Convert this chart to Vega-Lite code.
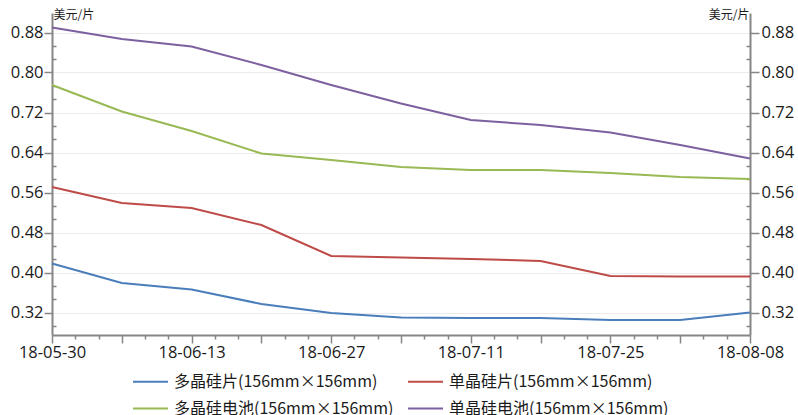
{
  "$schema": "https://vega.github.io/schema/vega-lite/v6.json",
  "width": 698,
  "height": 322,
  "autosize": "none",
  "padding": {"left": 52, "top": 13, "right": 48, "bottom": 80},
  "background": "white",
  "config": {
    "view": {"stroke": null},
    "font": "Open Sans",
    "axis": {
      "domainColor": "#868686",
      "domainWidth": 2,
      "tickColor": "#868686",
      "tickWidth": 1.5,
      "labelColor": "#1a1a1a",
      "labelFont": "Open Sans",
      "labelFontSize": 16.5,
      "grid": false
    },
    "legend": {
      "labelFont": "Noto Sans CJK SC",
      "labelFontSize": 16,
      "labelColor": "#1a1a1a",
      "labelLimit": 400,
      "symbolType": "stroke",
      "symbolSize": 1225,
      "symbolStrokeWidth": 2,
      "labelOffset": 5,
      "columnPadding": 10,
      "rowPadding": -16
    }
  },
  "data": {
    "values": [
      {"date": "2018/05/30", "series": "多晶硅片(156mm×156mm)", "value": 0.418},
      {"date": "2018/06/06", "series": "多晶硅片(156mm×156mm)", "value": 0.379},
      {"date": "2018/06/13", "series": "多晶硅片(156mm×156mm)", "value": 0.366},
      {"date": "2018/06/20", "series": "多晶硅片(156mm×156mm)", "value": 0.337},
      {"date": "2018/06/27", "series": "多晶硅片(156mm×156mm)", "value": 0.319},
      {"date": "2018/07/04", "series": "多晶硅片(156mm×156mm)", "value": 0.310},
      {"date": "2018/07/11", "series": "多晶硅片(156mm×156mm)", "value": 0.309},
      {"date": "2018/07/18", "series": "多晶硅片(156mm×156mm)", "value": 0.309},
      {"date": "2018/07/25", "series": "多晶硅片(156mm×156mm)", "value": 0.305},
      {"date": "2018/08/01", "series": "多晶硅片(156mm×156mm)", "value": 0.305},
      {"date": "2018/08/08", "series": "多晶硅片(156mm×156mm)", "value": 0.320},
      {"date": "2018/05/30", "series": "单晶硅片(156mm×156mm)", "value": 0.571},
      {"date": "2018/06/06", "series": "单晶硅片(156mm×156mm)", "value": 0.539},
      {"date": "2018/06/13", "series": "单晶硅片(156mm×156mm)", "value": 0.529},
      {"date": "2018/06/20", "series": "单晶硅片(156mm×156mm)", "value": 0.495},
      {"date": "2018/06/27", "series": "单晶硅片(156mm×156mm)", "value": 0.433},
      {"date": "2018/07/04", "series": "单晶硅片(156mm×156mm)", "value": 0.430},
      {"date": "2018/07/11", "series": "单晶硅片(156mm×156mm)", "value": 0.427},
      {"date": "2018/07/18", "series": "单晶硅片(156mm×156mm)", "value": 0.423},
      {"date": "2018/07/25", "series": "单晶硅片(156mm×156mm)", "value": 0.393},
      {"date": "2018/08/01", "series": "单晶硅片(156mm×156mm)", "value": 0.392},
      {"date": "2018/08/08", "series": "单晶硅片(156mm×156mm)", "value": 0.392},
      {"date": "2018/05/30", "series": "多晶硅电池(156mm×156mm)", "value": 0.775},
      {"date": "2018/06/06", "series": "多晶硅电池(156mm×156mm)", "value": 0.722},
      {"date": "2018/06/13", "series": "多晶硅电池(156mm×156mm)", "value": 0.683},
      {"date": "2018/06/20", "series": "多晶硅电池(156mm×156mm)", "value": 0.638},
      {"date": "2018/06/27", "series": "多晶硅电池(156mm×156mm)", "value": 0.625},
      {"date": "2018/07/04", "series": "多晶硅电池(156mm×156mm)", "value": 0.611},
      {"date": "2018/07/11", "series": "多晶硅电池(156mm×156mm)", "value": 0.605},
      {"date": "2018/07/18", "series": "多晶硅电池(156mm×156mm)", "value": 0.605},
      {"date": "2018/07/25", "series": "多晶硅电池(156mm×156mm)", "value": 0.599},
      {"date": "2018/08/01", "series": "多晶硅电池(156mm×156mm)", "value": 0.591},
      {"date": "2018/08/08", "series": "多晶硅电池(156mm×156mm)", "value": 0.587},
      {"date": "2018/05/30", "series": "单晶硅电池(156mm×156mm)", "value": 0.890},
      {"date": "2018/06/06", "series": "单晶硅电池(156mm×156mm)", "value": 0.867},
      {"date": "2018/06/13", "series": "单晶硅电池(156mm×156mm)", "value": 0.852},
      {"date": "2018/06/20", "series": "单晶硅电池(156mm×156mm)", "value": 0.815},
      {"date": "2018/06/27", "series": "单晶硅电池(156mm×156mm)", "value": 0.775},
      {"date": "2018/07/04", "series": "单晶硅电池(156mm×156mm)", "value": 0.738},
      {"date": "2018/07/11", "series": "单晶硅电池(156mm×156mm)", "value": 0.705},
      {"date": "2018/07/18", "series": "单晶硅电池(156mm×156mm)", "value": 0.695},
      {"date": "2018/07/25", "series": "单晶硅电池(156mm×156mm)", "value": 0.680},
      {"date": "2018/08/01", "series": "单晶硅电池(156mm×156mm)", "value": 0.655},
      {"date": "2018/08/08", "series": "单晶硅电池(156mm×156mm)", "value": 0.628}
    ]
  },
  "layer": [
    {
      "mark": {"type": "line", "strokeWidth": 2},
      "encoding": {
        "x": {
          "field": "date", "type": "temporal",
          "scale": {"domain": [{"year": 2018, "month": 5, "date": 30}, {"year": 2018, "month": 8, "date": 8}]},
          "axis": {
            "orient": "bottom",
            "title": null,
            "values": [
              {"year": 2018, "month": 5, "date": 30},
              {"year": 2018, "month": 6, "date": 13},
              {"year": 2018, "month": 6, "date": 27},
              {"year": 2018, "month": 7, "date": 11},
              {"year": 2018, "month": 7, "date": 25},
              {"year": 2018, "month": 8, "date": 8}
            ],
            "format": "%y-%m-%d",
            "tickSize": 8,
            "labelPadding": 1,
            "labelOverlap": false,
            "labelFlush": false
          }
        },
        "y": {
          "field": "value", "type": "quantitative",
          "scale": {"domain": [0.275, 0.919], "nice": false, "zero": false},
          "axis": {
            "orient": "left",
            "values": [0.32, 0.40, 0.48, 0.56, 0.64, 0.72, 0.80, 0.88],
            "format": ".2f",
            "grid": true,
            "gridColor": "#ebebeb",
            "gridWidth": 1,
            "tickSize": 8,
            "labelPadding": 1,
            "title": "美元/片",
            "titleFont": "Noto Sans CJK SC",
            "titleFontSize": 12,
            "titleFontWeight": "normal",
            "titleColor": "#1a1a1a",
            "titleAngle": 0,
            "titleAlign": "left",
            "titleBaseline": "middle",
            "titleX": 1,
            "titleY": 1
          }
        },
        "color": {
          "field": "series", "type": "nominal",
          "scale": {
            "domain": ["多晶硅片(156mm×156mm)", "单晶硅片(156mm×156mm)", "多晶硅电池(156mm×156mm)", "单晶硅电池(156mm×156mm)"],
            "range": ["#4a7ebb", "#be4b48", "#98b954", "#7d60a0"]
          },
          "legend": {"title": null, "orient": "none", "legendX": 80, "legendY": 350, "columns": 2, "direction": "horizontal"}
        }
      }
    },
    {
      "mark": {"type": "point", "opacity": 0},
      "encoding": {
        "x": {
          "field": "date", "type": "temporal",
          "axis": {
            "orient": "bottom",
            "title": null,
            "values": [
              {"year": 2018, "month": 6, "date": 6},
              {"year": 2018, "month": 6, "date": 20},
              {"year": 2018, "month": 7, "date": 4},
              {"year": 2018, "month": 7, "date": 18},
              {"year": 2018, "month": 8, "date": 1}
            ],
            "labels": false,
            "domain": false,
            "tickSize": 8
          }
        },
        "y": {
          "field": "value", "type": "quantitative",
          "scale": {"domain": [0.275, 0.919], "nice": false, "zero": false},
          "axis": {
            "orient": "right",
            "values": [0.32, 0.40, 0.48, 0.56, 0.64, 0.72, 0.80, 0.88],
            "format": ".2f",
            "tickSize": 9,
            "labelPadding": 2,
            "title": "美元/片",
            "titleFont": "Noto Sans CJK SC",
            "titleFontSize": 12,
            "titleFontWeight": "normal",
            "titleColor": "#1a1a1a",
            "titleAngle": 0,
            "titleAlign": "right",
            "titleBaseline": "middle",
            "titleX": -1,
            "titleY": 1
          }
        }
      }
    },
    {
      "mark": {"type": "point", "opacity": 0},
      "encoding": {
        "x": {
          "field": "date", "type": "temporal",
          "axis": {
            "orient": "bottom",
            "title": null,
            "values": [
              {"year": 2018, "month": 6, "date": 1, "hours": 8},
              {"year": 2018, "month": 6, "date": 3, "hours": 16},
              {"year": 2018, "month": 6, "date": 8, "hours": 8},
              {"year": 2018, "month": 6, "date": 10, "hours": 16},
              {"year": 2018, "month": 6, "date": 15, "hours": 8},
              {"year": 2018, "month": 6, "date": 17, "hours": 16},
              {"year": 2018, "month": 6, "date": 22, "hours": 8},
              {"year": 2018, "month": 6, "date": 24, "hours": 16},
              {"year": 2018, "month": 6, "date": 29, "hours": 8},
              {"year": 2018, "month": 7, "date": 1, "hours": 16},
              {"year": 2018, "month": 7, "date": 6, "hours": 8},
              {"year": 2018, "month": 7, "date": 8, "hours": 16},
              {"year": 2018, "month": 7, "date": 13, "hours": 8},
              {"year": 2018, "month": 7, "date": 15, "hours": 16},
              {"year": 2018, "month": 7, "date": 20, "hours": 8},
              {"year": 2018, "month": 7, "date": 22, "hours": 16},
              {"year": 2018, "month": 7, "date": 27, "hours": 8},
              {"year": 2018, "month": 7, "date": 29, "hours": 16},
              {"year": 2018, "month": 8, "date": 3, "hours": 8},
              {"year": 2018, "month": 8, "date": 5, "hours": 16}
            ],
            "labels": false,
            "domain": false,
            "tickSize": 4
          }
        },
        "y": {
          "field": "value", "type": "quantitative",
          "scale": {"domain": [0.275, 0.919], "nice": false, "zero": false},
          "axis": {
            "orient": "left",
            "title": null,
            "values": [0.29333, 0.34667, 0.37333, 0.42667, 0.45333, 0.50667, 0.53333, 0.58667, 0.61333, 0.66667, 0.69333, 0.74667, 0.77333, 0.82667, 0.85333],
            "labels": false,
            "domain": false,
            "tickSize": -4
          }
        }
      }
    },
    {
      "mark": {"type": "point", "opacity": 0},
      "encoding": {
        "x": {"field": "date", "type": "temporal", "axis": null},
        "y": {
          "field": "value", "type": "quantitative",
          "scale": {"domain": [0.275, 0.919], "nice": false, "zero": false},
          "axis": {
            "orient": "right",
            "title": null,
            "values": [0.29333, 0.34667, 0.37333, 0.42667, 0.45333, 0.50667, 0.53333, 0.58667, 0.61333, 0.66667, 0.69333, 0.74667, 0.77333, 0.82667, 0.85333],
            "labels": false,
            "domain": false,
            "tickSize": -4
          }
        }
      }
    }
  ],
  "resolve": {"axis": {"x": "independent", "y": "independent"}}
}
